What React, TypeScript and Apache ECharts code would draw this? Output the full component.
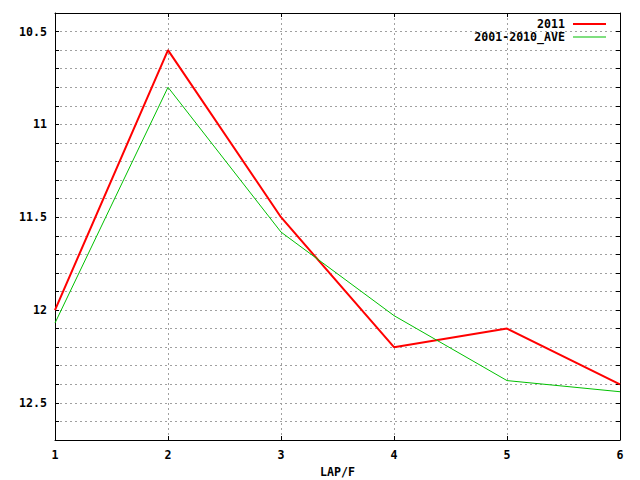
import React, { useEffect, useRef } from "react";
import * as echarts from "echarts";

const laps = [1, 2, 3, 4, 5, 6];
const values2011 = [12.0, 10.6, 11.5, 12.2, 12.1, 12.4];
const valuesAve = [12.07, 10.8, 11.58, 12.03, 12.38, 12.44];
const seriesNames = ["2011", "2001-2010_AVE"];
const yLabelValues = [10.5, 11, 11.5, 12, 12.5];

const FONT = "'DejaVu Sans Mono', 'Liberation Mono', monospace";

export default function App() {
  const ref = useRef<HTMLDivElement>(null);
  useEffect(() => {
    if (!ref.current) return;
    const chart = echarts.init(ref.current, undefined, { renderer: "svg" });
    const gridLine = { show: true, lineStyle: { color: "#a0a0a0", type: [2, 3], width: 1 } };
    const axisLine = { show: true, lineStyle: { color: "#000", width: 1 } };
    const txt = { color: "#000", fontFamily: FONT, fontWeight: "bold" as const, fontSize: 11.6 };
    const yBase = {
      type: "value" as const,
      min: 10.4,
      max: 12.7,
      interval: 0.1,
      inverse: true,
      axisLine,
      axisTick: { show: true, inside: true, length: 4, lineStyle: { color: "#000" } },
    };
    const xBase = {
      type: "value" as const,
      min: 1,
      max: 6,
      interval: 1,
      axisLine,
      axisTick: { show: true, inside: true, length: 4, lineStyle: { color: "#000" } },
    };
    chart.setOption({
      animation: false,
      backgroundColor: "#fff",
      grid: { left: 55, right: 20, top: 13, bottom: 40, containLabel: false, outerBoundsMode: "none" },
      xAxis: [
        {
          ...xBase,
          position: "bottom",
          name: "LAP/F",
          nameLocation: "middle",
          nameGap: 26,
          nameTextStyle: txt,
          axisLabel: { ...txt, margin: 9, formatter: (v: number) => String(v) },
          splitLine: gridLine,
        },
        {
          ...xBase,
          position: "top",
          axisLabel: { show: false },
          splitLine: { show: false },
        },
      ],
      yAxis: [
        {
          ...yBase,
          position: "left",
          axisLabel: {
            ...txt,
            margin: 8,
            formatter: (v: number) => {
              const r = Math.round(v * 10) / 10;
              return yLabelValues.some((l) => Math.abs(l - r) < 1e-6) ? String(r) : "";
            },
          },
          splitLine: gridLine,
        },
        {
          ...yBase,
          position: "right",
          axisLabel: { show: false },
          splitLine: { show: false },
        },
      ],
      legend: [
        {
          data: [seriesNames[0]],
          right: 34,
          top: 18,
          orient: "vertical",
          align: "right",
          padding: 0,
          icon: "rect",
          itemWidth: 33,
          itemHeight: 2,
          itemStyle: { borderWidth: 0 },
          textStyle: { ...txt, padding: [0, 3, 0, 0] },
          selectedMode: false,
        },
        {
          data: [seriesNames[1]],
          right: 34,
          top: 31,
          orient: "vertical",
          align: "right",
          padding: 0,
          icon: "rect",
          itemWidth: 33,
          itemHeight: 1,
          itemStyle: { borderWidth: 0 },
          textStyle: { ...txt, padding: [0, 3, 0, 0] },
          selectedMode: false,
        },
      ],
      series: [
        {
          name: seriesNames[0],
          type: "line",
          data: laps.map((x, i) => [x, values2011[i]]),
          symbol: "none",
          color: "#ff0000",
          lineStyle: { color: "#ff0000", width: 2 },
          xAxisIndex: 0,
          yAxisIndex: 0,
        },
        {
          name: seriesNames[1],
          type: "line",
          data: laps.map((x, i) => [x, valuesAve[i]]),
          symbol: "none",
          color: "#00c000",
          lineStyle: { color: "#00c000", width: 1 },
          xAxisIndex: 0,
          yAxisIndex: 0,
        },
      ],
    });
    return () => chart.dispose();
  }, []);
  return (
    <div
      ref={ref}
      style={{ position: "fixed", left: 0, top: 0, width: 640, height: 480, background: "#fff" }}
    />
  );
}
